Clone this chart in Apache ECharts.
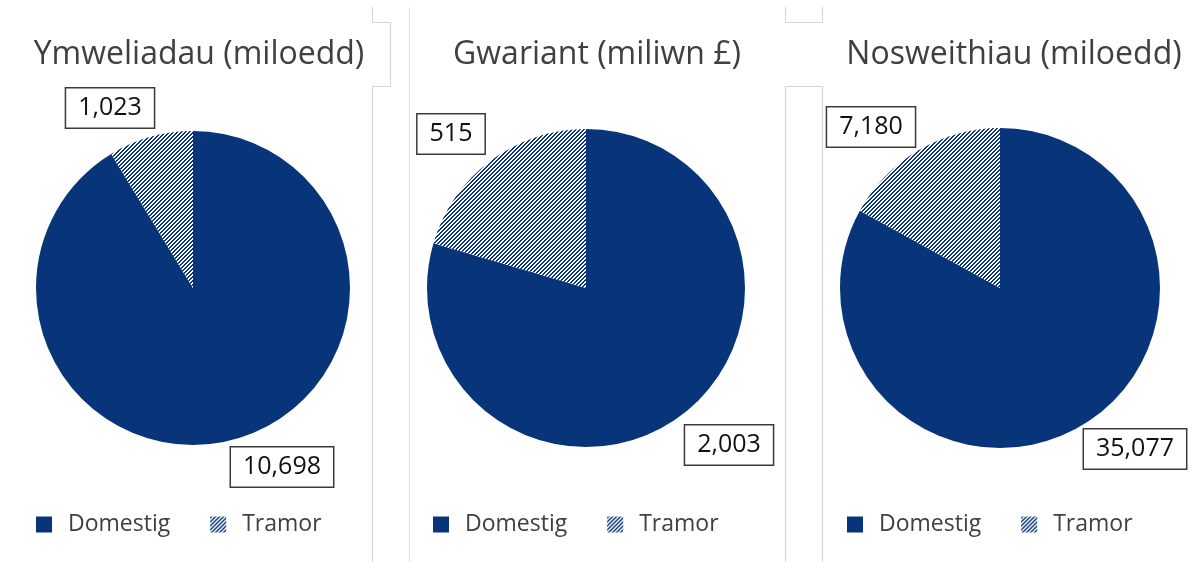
<!DOCTYPE html>
<html>
<head>
<meta charset="utf-8">
<script src="https://cdn.jsdelivr.net/npm/echarts@6/dist/echarts.min.js"></script>
<style>
html,body{margin:0;padding:0;background:#fff;}
#c{width:1203px;height:562px;}
</style>
</head>
<body>
<div id="c"></div>
<script>
// ---- data ----
const categories = ['Domestig', 'Tramor'];
const titles = ['Ymweliadau (miloedd)', 'Gwariant (miliwn £)', 'Nosweithiau (miloedd)'];
const domestig = [10698, 2003, 35077];
const tramor = [1023, 515, 7180];

// ---- layout / style ----
const NAVY = '#08357a';
const FONT = '"Open Sans", "Noto Sans", sans-serif';
const pieCenters = [[193, 288], [586, 288], [1000, 288]];
const pieRadius = [157, 159, 160];
const titleX = [199, 597, 1014];
const legendLeft = [36, 433, 847];
// label box centres relative to pie centre: [Domestig, Tramor]
const labelOffsets = [
  [[89, 179], [-83, -180]],
  [[143, 157], [-135, -154]],
  [[135, 161], [-129, -161]]
];

function makeStripe() {
  const n = 4;
  const cv = document.createElement('canvas');
  cv.width = n; cv.height = n;
  const ctx = cv.getContext('2d');
  ctx.fillStyle = '#ffffff';
  ctx.fillRect(0, 0, n, n);
  ctx.fillStyle = NAVY;
  for (let x = 0; x < n; x++) {
    for (let y = 0; y < n; y++) {
      const m = (x + y) % n;
      if (m === 0 || m === 1) ctx.fillRect(x, y, 1, 1);
    }
  }
  return cv;
}
const stripe = { image: makeStripe(), repeat: 'repeat' };

const chart = echarts.init(document.getElementById('c'), null, { renderer: 'canvas' });

const series = titles.map((t, i) => ({
  type: 'pie',
  name: t,
  center: pieCenters[i],
  radius: pieRadius[i],
  startAngle: 90,
  clockwise: true,
  avoidLabelOverlap: false,
  silent: true,
  animation: false,
  data: [
    { name: categories[0], value: domestig[i], itemStyle: { color: NAVY } },
    { name: categories[1], value: tramor[i], itemStyle: { color: stripe } }
  ],
  itemStyle: { borderWidth: 0 },
  label: {
    show: true,
    position: 'outside',
    formatter: p => p.value.toLocaleString('en-US'),
    fontFamily: FONT,
    fontSize: 25,
    color: '#111111',
    backgroundColor: '#ffffff',
    borderColor: '#3a3a3a',
    borderWidth: 1.5,
    padding: [8, 12, 6, 12]
  },
  labelLine: { show: false },
  labelLayout: function (params) {
    const off = labelOffsets[i][params.dataIndex];
    return {
      x: pieCenters[i][0] + off[0],
      y: pieCenters[i][1] + off[1],
      align: 'center',
      verticalAlign: 'middle'
    };
  }
}));

const legends = titles.map((t, i) => ({
  data: categories,
  left: legendLeft[i],
  top: 513,
  orient: 'horizontal',
  padding: 0,
  icon: 'rect',
  itemWidth: 16,
  itemHeight: 16,
  itemGap: 40,
  selectedMode: false,
  textStyle: {
    fontFamily: FONT,
    fontSize: 23,
    color: '#404040',
    padding: [0, 0, 0, 11]
  }
}));

const lineStyle = { stroke: '#d4d4d4', lineWidth: 1, fill: null };
const graphics = [
  { type: 'polyline', silent: true, shape: { points: [[372.5, 7], [372.5, 22.5], [390.5, 22.5], [390.5, 86.5], [372.5, 86.5], [372.5, 562]] }, style: lineStyle },
  { type: 'polyline', silent: true, shape: { points: [[409.5, 7], [409.5, 562]] }, style: { stroke: '#e0e0e0', lineWidth: 1, fill: null } },
  { type: 'polyline', silent: true, shape: { points: [[785.5, 7], [785.5, 22.5], [822.5, 22.5], [822.5, 7]] }, style: lineStyle },
  { type: 'polyline', silent: true, shape: { points: [[785.5, 562], [785.5, 86.5], [822.5, 86.5], [822.5, 562]] }, style: lineStyle }
].concat(titles.map((t, i) => ({
  type: 'text',
  silent: true,
  x: titleX[i],
  y: 55,
  style: {
    text: t,
    font: '32px ' + FONT,
    fill: '#404040',
    align: 'center',
    verticalAlign: 'middle'
  }
})));

chart.setOption({
  backgroundColor: '#ffffff',
  animation: false,
  legend: legends,
  series: series,
  graphic: graphics
});
</script>
</body>
</html>
